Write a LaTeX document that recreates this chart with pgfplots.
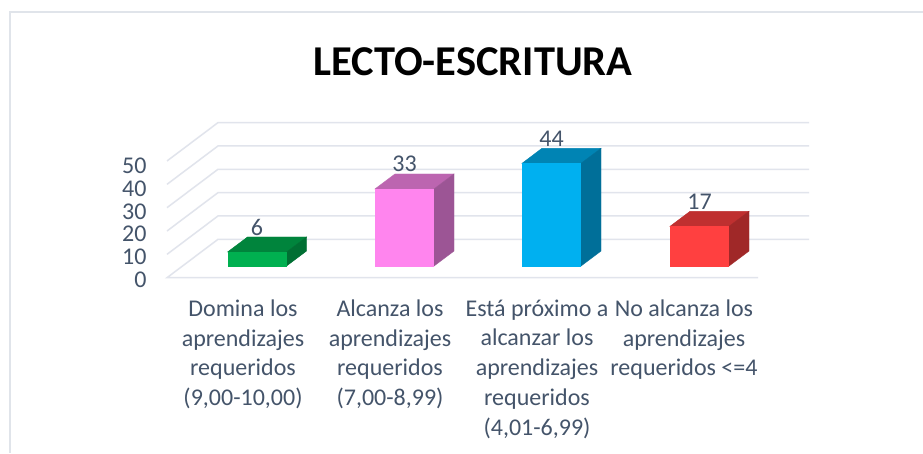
\documentclass[border=0pt]{standalone}
\usepackage{fontspec}
\setmainfont{Carlito}
\usepackage{pgfplots}
\pgfplotsset{compat=1.18}
\definecolor{txt}{HTML}{44546A}
\definecolor{gridc}{HTML}{E1E4EC}
\definecolor{borderc}{HTML}{E0E4EA}
\definecolor{gF}{HTML}{00B050}\definecolor{gT}{HTML}{00843C}\definecolor{gS}{HTML}{006F33}
\definecolor{pF}{HTML}{FF85EE}\definecolor{pT}{HTML}{BC65B0}\definecolor{pS}{HTML}{9C5595}
\definecolor{bF}{HTML}{00B0F0}\definecolor{bT}{HTML}{0084B4}\definecolor{bS}{HTML}{006F99}
\definecolor{rF}{HTML}{FF4040}\definecolor{rT}{HTML}{BF3030}\definecolor{rS}{HTML}{A02828}
\begin{document}
\begin{tikzpicture}[x=1pt,y=1pt]
\useasboundingbox (0,0) rectangle (923,453);
\fill[white] (0,0) rectangle (923,453);
\draw[borderc,line width=2pt] (9.5,0) -- (9.5,440.5) -- (923,440.5);
\begin{axis}[
  at={(167pt,172.99pt)}, anchor=south west,
  scale only axis, width=642pt, height=157.31pt,
  xmin=167, xmax=809, ymin=-6, ymax=61.4,
  clip=false,
  /pgf/number format/assume math mode=true,
  axis line style={draw=none}, major tick style={draw=none},
  title={LECTO-ESCRITURA},
  title style={at={(axis description cs:0.4766,1.347)},anchor=center,font=\fontsize{42.5}{46}\selectfont\bfseries,text=black},
  ytick={-5.87,3.90,13.67,23.43,33.20,42.97},
  yticklabels={0,10,20,30,40,50},
  yticklabel style={font=\fontsize{24}{26}\selectfont,text=txt,anchor=east,xshift=-17pt},
  xtick={243,390,537,684},
  xticklabels={{Domina los\\aprendizajes\\requeridos\\(9,00-10,00)},
    {Alcanza los\\aprendizajes\\requeridos\\(7,00-8,99)},
    {Está próximo a\\alcanzar los\\aprendizajes\\requeridos\\(4,01-6,99)},
    {No alcanza los\\aprendizajes\\requeridos <=4}},
  xticklabel style={font=\fontsize{24}{29.7}\selectfont,text=txt,align=center,anchor=north,yshift=-16.2pt},
]
% gridlines: side wall and back wall
\pgfplotsset{gl/.style={gridc,line width=1.5pt,forget plot}}
\addplot[gl] coordinates {(758,-5.01)(167,-5.01)(218,11.44)(809,11.44)};
\addplot[gl] coordinates {(167,4.99)(218,21.44)(809,21.44)};
\addplot[gl] coordinates {(167,14.99)(218,31.44)(809,31.44)};
\addplot[gl] coordinates {(167,24.99)(218,41.44)(809,41.44)};
\addplot[gl] coordinates {(167,34.99)(218,51.44)(809,51.44)};
\addplot[gl] coordinates {(167,44.99)(218,61.44)(809,61.44)};
% top and side faces
\addplot[fill=gT,draw=gT] coordinates {(227.5,6)(286.5,6)(306.5,12.43)(247.5,12.43)} --cycle;
\addplot[fill=gS,draw=gS] coordinates {(286.5,0)(306.5,6.43)(306.5,12.43)(286.5,6)} --cycle;
\addplot[fill=pT,draw=pT] coordinates {(375,33)(434,33)(454,39.43)(395,39.43)} --cycle;
\addplot[fill=pS,draw=pS] coordinates {(434,0)(454,6.43)(454,39.43)(434,33)} --cycle;
\addplot[fill=bT,draw=bT] coordinates {(522,44)(581,44)(601,50.43)(542,50.43)} --cycle;
\addplot[fill=bS,draw=bS] coordinates {(581,0)(601,6.43)(601,50.43)(581,44)} --cycle;
\addplot[fill=rT,draw=rT] coordinates {(670,17)(729,17)(749,23.43)(690,23.43)} --cycle;
\addplot[fill=rS,draw=rS] coordinates {(729,0)(749,6.43)(749,23.43)(729,17)} --cycle;
% front faces
\addplot[ybar,bar width=58pt,bar shift=0pt,fill=gF,draw=gF] coordinates {(257,6)};
\addplot[ybar,bar width=58pt,bar shift=0pt,fill=pF,draw=pF] coordinates {(404.5,33)};
\addplot[ybar,bar width=58pt,bar shift=0pt,fill=bF,draw=bF] coordinates {(551.5,44)};
\addplot[ybar,bar width=58pt,bar shift=0pt,fill=rF,draw=rF] coordinates {(699.5,17)};
% value labels
\addplot[draw=none,mark=none,nodes near coords,
  every node near coord/.style={anchor=center,yshift=25pt,font=\fontsize{24}{26}\selectfont,text=txt}]
  coordinates {(257,6)(404.5,33)(551.5,44)(699.5,17)};
\end{axis}
\end{tikzpicture}
\end{document}
